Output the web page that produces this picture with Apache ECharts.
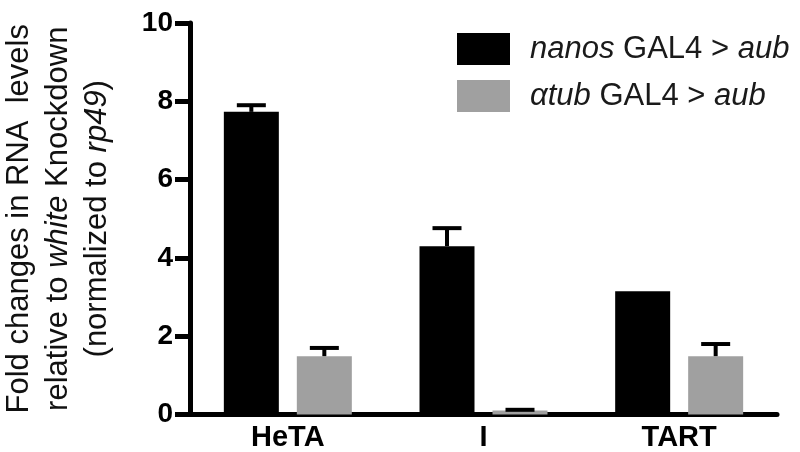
<!DOCTYPE html>
<html>
<head>
<meta charset="utf-8">
<script src="https://cdn.jsdelivr.net/npm/echarts@6/dist/echarts.min.js"></script>
<style>
  html, body { margin: 0; padding: 0; background: #fff; }
  #chart { width: 800px; height: 452px; }
</style>
</head>
<body>
<div id="chart"></div>
<script>
// data
const categories = ["HeTA", "I", "TART"];
const nanosMean = [7.73, 4.30, 3.15];
const nanosUpper = [7.90, 4.76, 3.15];
const atubMean = [1.49, 0.10, 1.49];
const atubUpper = [1.70, 0.12, 1.80];
const yTicks = [0, 2, 4, 6, 8, 10];

const FONT = "'Liberation Sans', Arial, Helvetica, sans-serif";
const BAR_W = 55;
const GAP = 18;

const mChart = echarts.init(document.getElementById("chart"));

// error bar (upper only) drawn on top of a bar, shifted by the bar offset
const errorBar = (sign) => (params, api) => {
  const idx = api.value(0);
  if (api.value(2) <= api.value(1)) return null;
  const base = api.coord([idx, api.value(1)]);
  const top = api.coord([idx, api.value(2)]);
  const cx = base[0] + sign * (BAR_W + GAP) / 2;
  const style = { stroke: "#000", lineWidth: 4 };
  return {
    type: "group",
    children: [
      { type: "line", shape: { x1: cx, y1: base[1], x2: cx, y2: top[1] }, style },
      { type: "line", shape: { x1: cx - 14.5, y1: top[1], x2: cx + 14.5, y2: top[1] }, style },
    ],
  };
};

const legendNames = {
  nanos: "{i|nanos}{n| GAL4 > }{i|aub}",
  atub: "{i|\u03b1tub}{n| GAL4 > }{i|aub}",
};

const option = {
  animation: false,
  textStyle: { fontFamily: FONT },
  grid: { left: 190, right: 23, top: 23, bottom: 37.5, containLabel: false, outerBoundsMode: "none" },
  legend: {
    orient: "vertical",
    left: 452,
    top: 28,
    itemWidth: 53,
    itemHeight: 32,
    itemGap: 15,
    icon: "rect",
    data: ["nanos", "atub"],
    formatter: (name) => legendNames[name],
    textStyle: {
      padding: [0, 0, 0, 15],
      rich: {
        n: { fontSize: 31, color: "#1a1a1a", fontFamily: FONT },
        i: { fontSize: 31, color: "#1a1a1a", fontFamily: FONT, fontStyle: "italic" },
      },
    },
  },
  xAxis: {
    type: "category",
    data: categories,
    axisLine: { lineStyle: { color: "#000", width: 5 } },
    axisTick: { show: false },
    axisLabel: { color: "#000", fontSize: 29, fontWeight: "bold", margin: 9, fontFamily: FONT },
  },
  yAxis: {
    type: "value",
    min: yTicks[0],
    max: yTicks[yTicks.length - 1],
    interval: 2,
    splitLine: { show: false },
    axisLine: { show: true, lineStyle: { color: "#000", width: 5 } },
    axisTick: { show: true, inside: false, length: 15, lineStyle: { color: "#000", width: 5 } },
    axisLabel: { color: "#000", fontSize: 28, fontWeight: "bold", margin: 17, fontFamily: FONT },
    name: "{n|Fold changes in RNA  levels}\n{n|relative to }{i|white}{n| Knockdown}\n{n|(normalized to }{i|rp49}{n|)}",
    nameLocation: "middle",
    nameRotate: 90,
    nameGap: 73,
    nameTextStyle: {
      lineHeight: 39,
      rich: {
        n: { fontSize: 31, lineHeight: 39, color: "#111", fontFamily: FONT },
        i: { fontSize: 31, lineHeight: 39, color: "#111", fontFamily: FONT, fontStyle: "italic" },
      },
    },
  },
  series: [
    {
      name: "nanos",
      type: "bar",
      data: nanosMean,
      barWidth: BAR_W,
      barGap: (GAP / BAR_W * 100).toFixed(1) + "%",
      itemStyle: { color: "#000" },
    },
    {
      name: "atub",
      type: "bar",
      data: atubMean,
      barWidth: BAR_W,
      itemStyle: { color: "#a0a0a0" },
    },
    {
      type: "custom",
      z: 5,
      renderItem: errorBar(-1),
      data: nanosMean.map((v, i) => [i, v, nanosUpper[i]]),
    },
    {
      type: "custom",
      z: 5,
      renderItem: errorBar(1),
      data: atubMean.map((v, i) => [i, v, atubUpper[i]]),
    },
  ],
};

mChart.setOption(option);
</script>
</body>
</html>
